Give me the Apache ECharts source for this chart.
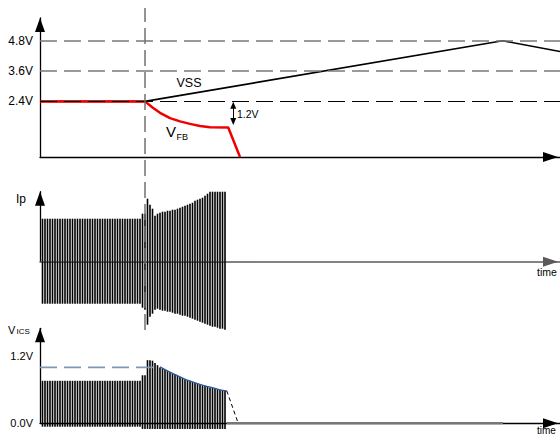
<!DOCTYPE html>
<html><head><meta charset="utf-8">
<script src="https://cdn.jsdelivr.net/npm/echarts@6/dist/echarts.min.js"></script>
<style>html,body{margin:0;padding:0;background:#fff}#c{width:560px;height:438px}</style>
</head><body><div id="c"></div>
<script>
// ---- tick labels ----
const topTicks = [2.4, 3.6, 4.8];
const vicsTicks = [0, 1.2];
const refLevels = [4.8, 3.6, 2.4];
// ---- top panel: VSS and VFB (time units, volts) ----
const vssLine = [[0, 2.4], [42, 2.4], [185.1, 4.8], [208, 4.375]];
const vfbLine = [[0, 2.4], [42, 2.4], [45, 2.16], [48, 1.95], [52, 1.74], [56, 1.61], [60, 1.51], [64, 1.43], [68, 1.38], [75.3, 1.37], [80, 0.2]];
const deltaArrow = [[77.3, 2.25], [77.3, 1.6]];
const markTime = [[42, 0], [42, 1]];
// ---- Ip pulses (relative amplitude), one per switching cycle ----
const ipTop = [43,43,43,43,43,43,43,43,43,43, 43,43,43,43,43,43,43,43,43,43,
  43,43,43,43,43,43,43,43,43,43, 43,43,43,43,43,43,43,43,43,43,
  48,48,63,57,53,46,48,49,50,50, 51,51,52,52,53,54,55,56,57,58,
  59,61,62,63,64,66,68,70,70,70, 70,70,70,70];
const ipBottom = [-42,-42,-42,-42,-42,-42,-42,-42,-42,-42, -42,-42,-42,-42,-42,-42,-42,-42,-42,-42,
  -42,-42,-42,-42,-42,-42,-42,-42,-42,-42, -42,-42,-42,-42,-42,-42,-42,-42,-42,-42,
  -46,-48,-63,-55,-52,-48,-47,-48,-49,-49, -50,-50,-51,-52,-52,-53,-54,-54,-55,-56,
  -57,-58,-59,-60,-61,-62,-63,-64,-65,-65, -66,-67,-67,-68];
// ---- VICS pulses (volts) ----
const vicsTop = [0.76,0.76,0.76,0.76,0.76,0.76,0.76,0.76,0.76,0.76, 0.76,0.76,0.76,0.76,0.76,0.76,0.76,0.76,0.76,0.76,
  0.76,0.76,0.76,0.76,0.76,0.76,0.76,0.76,0.76,0.76, 0.76,0.76,0.76,0.76,0.76,0.76,0.76,0.76,0.76,0.76,
  0.86,0.86,1.13,1.13,1.12,1.08,1.04,1.00,0.98,0.96, 0.94,0.92,0.89,0.87,0.85,0.83,0.81,0.79,0.77,0.76,
  0.74,0.72,0.71,0.70,0.68,0.67,0.66,0.64,0.635,0.62, 0.61,0.60,0.59,0.585];
const vicsBottom = [-0.06,-0.06,-0.06,-0.06,-0.06,-0.06,-0.06,-0.06,-0.06,-0.06, -0.06,-0.06,-0.06,-0.06,-0.06,-0.06,-0.06,-0.06,-0.06,-0.06,
  -0.06,-0.06,-0.06,-0.06,-0.06,-0.06,-0.06,-0.06,-0.06,-0.06, -0.06,-0.06,-0.06,-0.06,-0.06,-0.06,-0.06,-0.06,-0.06,-0.06,
  -0.1,-0.1,-0.1,-0.1,-0.1,-0.1,-0.1,-0.1,-0.1,-0.1, -0.1,-0.1,-0.1,-0.1,-0.1,-0.1,-0.1,-0.1,-0.1,-0.1,
  -0.1,-0.1,-0.1,-0.1,-0.1,-0.1,-0.1,-0.1,-0.1,-0.1, -0.1,-0.1,-0.1,-0.1];
const vicsLimit = [[0, 1.0], [48, 1.0]];
const vicsEnvelope = [[48, 1.01], [52, 0.915], [56, 0.831], [59.2, 0.767], [62.7, 0.713], [66, 0.67], [69.2, 0.635], [72, 0.599], [74.7, 0.581]];
const vicsFall = [[74.7, 0.581], [79.3, 0]];
const vicsIdle = [[74.7, 0], [185.2, 0]];

const pulseT = ipTop.map((v, i) => i + 1);
const pairs = (arr) => pulseT.map((t, i) => [t, arr[i]]);

const FONT = 'Liberation Sans, Arial, Helvetica, sans-serif';
const T_MAX = 208;

function xAx(gi, show, extra) {
  return Object.assign({
    type: 'value', gridIndex: gi, min: 0, max: T_MAX, show: show,
    axisTick: { show: false }, axisLabel: { show: false }, splitLine: { show: false },
    axisLine: { show: show, onZero: false,
      lineStyle: { color: '#000', width: 1.3 },
      symbol: ['none', 'triangle'], symbolSize: [10, 15], symbolOffset: [0, -9.5] }
  }, extra || {});
}
function yAx(gi, min, max, show, extra) {
  return Object.assign({
    type: 'value', gridIndex: gi, min: min, max: max, show: show,
    axisTick: { show: false }, axisLabel: { show: false }, splitLine: { show: false },
    axisLine: { show: show, onZero: false,
      lineStyle: { color: '#000', width: 1.3 },
      symbol: ['none', 'triangle'], symbolSize: [10, 14], symbolOffset: [0, -7] }
  }, extra || {});
}
const g = (top, height) => ({ left: 40, right: 0, top: top, height: height, containLabel: false, outerBoundsMode: 'none' });
const timeName = (pad, size) => ({ name: 'time', nameLocation: 'end', nameGap: -23,
  nameTextStyle: { fontSize: size, color: '#000', fontFamily: FONT, align: 'left', verticalAlign: 'top', padding: [pad, 0, 0, 0] } });

const chart = echarts.init(document.getElementById('c'), null, { renderer: 'svg' });
chart.setOption({
  animation: false,
  backgroundColor: '#fff',
  textStyle: { fontFamily: FONT },
  grid: [g(18, 139), g(191.7, 70), g(261.7, 70), g(328.3, 95), g(423.3, 7), g(8, 322)],
  xAxis: [
    xAx(0, true),
    xAx(1, true, Object.assign({ axisLine: { show: true, onZero: false, lineStyle: { color: '#5a5a5a', width: 1.5 }, symbol: ['none', 'triangle'], symbolSize: [10, 15], symbolOffset: [0, -9.5] } }, timeName(5, 10.5))),
    xAx(2, false),
    xAx(3, true, timeName(2, 10)),
    xAx(4, false),
    xAx(5, false)
  ],
  yAxis: [
    yAx(0, 0.2, 5.7, true, { axisLabel: { show: true, customValues: topTicks, margin: 7, fontSize: 12, color: '#000', fontFamily: FONT, formatter: v => v.toFixed(1) + 'V' } }),
    yAx(1, 0, 70, true),
    yAx(2, -70, 0, false),
    yAx(3, 0, 1.7, true, { axisLabel: { show: true, customValues: vicsTicks, margin: 7, fontSize: 11, color: '#000', fontFamily: FONT, formatter: v => v.toFixed(1) + 'V' } }),
    yAx(4, -0.125, 0, false),
    yAx(5, 0, 1, false)
  ],
  series: [
    { type: 'line', xAxisIndex: 0, yAxisIndex: 0, data: vssLine, symbol: 'none', z: 3,
      lineStyle: { color: '#000', width: 1.6 },
      markLine: { silent: true, symbol: 'none', label: { show: false },
        data: refLevels.map((v, i) => ({ yAxis: v, lineStyle: { color: i < 2 ? '#7a7a7a' : '#000', width: i < 2 ? 1.6 : 1.1, type: [17, 7] } })) } },
    { type: 'line', xAxisIndex: 0, yAxisIndex: 0, data: vfbLine, symbol: 'none', z: 4,
      lineStyle: { color: '#f00000', width: 2.5 },
      markLine: { silent: true, symbol: ['triangle', 'triangle'], symbolSize: [6, 7], label: { show: false },
        lineStyle: { color: '#000', width: 1, type: 'solid' },
        data: [[{ coord: deltaArrow[0] }, { coord: deltaArrow[1] }]] } },
    { type: 'bar', xAxisIndex: 1, yAxisIndex: 1, data: pairs(ipTop), barWidth: 1.6, itemStyle: { color: '#000' }, z: 2 },
    { type: 'bar', xAxisIndex: 2, yAxisIndex: 2, data: pairs(ipBottom), barWidth: 1.6, itemStyle: { color: '#000' }, z: 2 },
    { type: 'bar', xAxisIndex: 3, yAxisIndex: 3, data: pairs(vicsTop), barWidth: 1.6, itemStyle: { color: '#000' }, z: 2 },
    { type: 'bar', xAxisIndex: 4, yAxisIndex: 4, data: pairs(vicsBottom), barWidth: 1.6, itemStyle: { color: '#000' }, z: 2 },
    { type: 'line', xAxisIndex: 3, yAxisIndex: 3, data: vicsLimit, symbol: 'none', z: 3,
      lineStyle: { color: '#8096b8', width: 1.6, type: [17, 7] } },
    { type: 'line', xAxisIndex: 3, yAxisIndex: 3, data: vicsEnvelope, symbol: 'none', smooth: 0.3, z: 5,
      lineStyle: { color: '#2d5a9a', width: 1.3 } },
    { type: 'line', xAxisIndex: 3, yAxisIndex: 3, data: vicsFall, symbol: 'none', z: 5,
      lineStyle: { color: '#000', width: 1, type: [4, 3] } },
    { type: 'line', xAxisIndex: 3, yAxisIndex: 3, data: vicsIdle, symbol: 'none', z: 5,
      lineStyle: { color: '#777', width: 2.5 } },
    { type: 'line', xAxisIndex: 5, yAxisIndex: 5, data: markTime, symbol: 'none', z: 6,
      lineStyle: { color: '#707070', width: 1.5, type: [16, 6] } }
  ],
  graphic: [
    { type: 'text', x: 189, y: 83, style: { text: 'VSS', fontSize: 12.5, fontFamily: FONT, fill: '#000', align: 'center', verticalAlign: 'middle' } },
    { type: 'text', x: 166, y: 131, style: { text: 'V', fontSize: 15, fontFamily: FONT, fill: '#000', align: 'left', verticalAlign: 'middle' } },
    { type: 'text', x: 176.5, y: 137, style: { text: 'FB', fontSize: 9, fontFamily: FONT, fill: '#000', align: 'left', verticalAlign: 'middle' } },
    { type: 'text', x: 237, y: 114, style: { text: '1.2V', fontSize: 10.5, fontFamily: FONT, fill: '#000', align: 'left', verticalAlign: 'middle' } },
    { type: 'text', x: 16, y: 199, style: { text: 'Ip', fontSize: 12, fontFamily: FONT, fill: '#000', align: 'left', verticalAlign: 'middle' } },
    { type: 'text', x: 8, y: 330, style: { text: 'V', fontSize: 11, fontFamily: FONT, fill: '#000', align: 'left', verticalAlign: 'middle' } },
    { type: 'text', x: 16.5, y: 331, style: { text: 'ICS', fontSize: 8, fontFamily: FONT, fill: '#000', align: 'left', verticalAlign: 'middle' } }
  ]
});
</script></body></html>
